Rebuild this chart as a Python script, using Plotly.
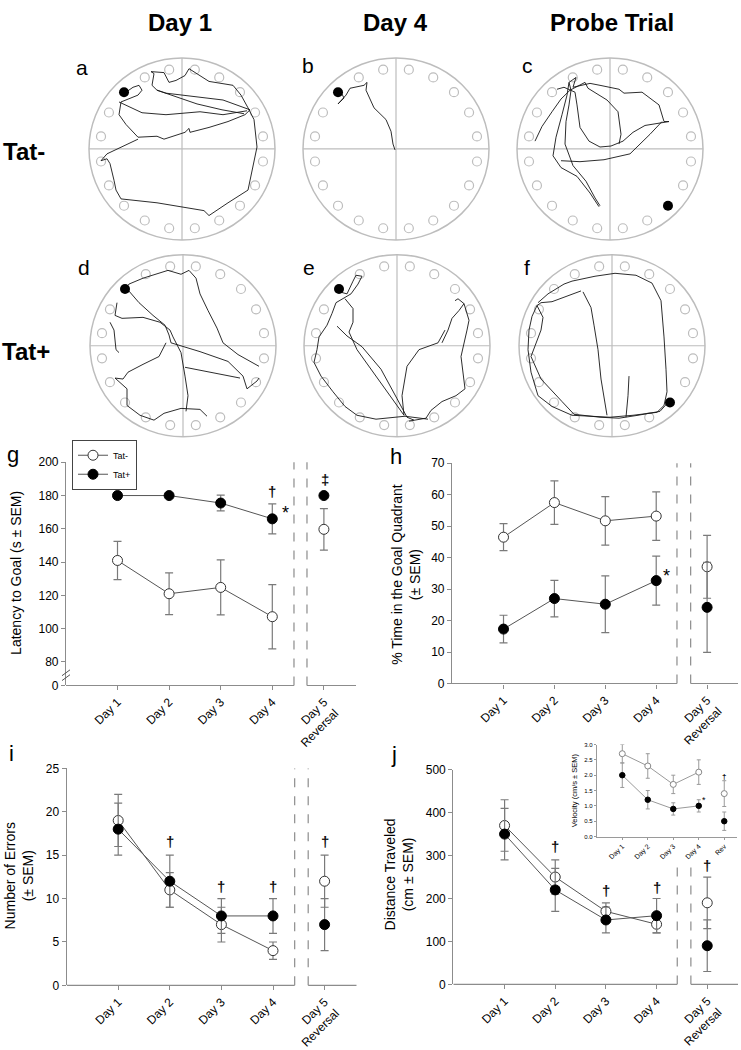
import math
import plotly.graph_objects as go

W, H = 741, 1050

# ---------------- data ----------------
DAY_TICKS = [1, 2, 3, 4, 5]
DAY_LABELS = ["Day 1", "Day 2", "Day 3", "Day 4", "Day 5<br>Reversal"]
INSET_LABELS = ["Day 1", "Day 2", "Day 3", "Day 4", "Rev"]
TRAIN_DAYS = [1, 2, 3, 4]
REV_DAY = [5]

# g: latency to goal (s)
LAT_NEG = [141, 121, 124.8, 107.2]
LAT_NEG_SEM = [11.5, 12.5, 16.5, 19.3]
LAT_NEG_REV = [159.7]
LAT_NEG_REV_SEM = [12.5]
LAT_POS = [180, 180, 175.5, 166]
LAT_POS_SEM = [0, 0, 4.7, 9]
LAT_POS_REV = [180]
LAT_POS_REV_SEM = [0]
LAT_TICKS = [80, 100, 120, 140, 160, 180, 200]

# h: % time in goal quadrant
TIME_NEG = [46.5, 57.5, 51.7, 53.2]
TIME_NEG_SEM = [4.3, 6.9, 7.7, 7.7]
TIME_NEG_REV = [37.1]
TIME_NEG_REV_SEM = [10]
TIME_POS = [17.3, 27.0, 25.2, 32.7]
TIME_POS_SEM = [4.4, 5.8, 9.0, 7.8]
TIME_POS_REV = [24.2]
TIME_POS_REV_SEM = [14.3]

# i: number of errors
ERR_NEG = [19, 11, 7, 4]
ERR_NEG_SEM = [3, 2, 2, 1]
ERR_NEG_REV = [12]
ERR_NEG_REV_SEM = [3]
ERR_POS = [18, 12, 8, 8]
ERR_POS_SEM = [3, 3, 2, 2]
ERR_POS_REV = [7]
ERR_POS_REV_SEM = [3]

# j: distance traveled (cm)
DIST_NEG = [370, 250, 170, 140]
DIST_NEG_SEM = [60, 40, 20, 20]
DIST_NEG_REV = [190]
DIST_NEG_REV_SEM = [60]
DIST_POS = [350, 220, 150, 160]
DIST_POS_SEM = [60, 50, 30, 40]
DIST_POS_REV = [90]
DIST_POS_REV_SEM = [60]

# j inset: velocity (cm/s)
VEL_NEG = [2.7, 2.3, 1.7, 2.1]
VEL_NEG_SEM = [0.3, 0.4, 0.3, 0.4]
VEL_NEG_REV = [1.4]
VEL_NEG_REV_SEM = [0.42]
VEL_POS = [2.0, 1.2, 0.9, 1.0]
VEL_POS_SEM = [0.4, 0.3, 0.2, 0.2]
VEL_POS_REV = [0.5]
VEL_POS_REV_SEM = [0.3]
VEL_TICKS = [0.0, 0.5, 1.0, 1.5, 2.0, 2.5, 3.0]

# Barnes maze tracks (arena radius = 93 units, y pointing down)
N_HOLES = 20
PATH_A = [
    [(-56, -58), (-49, -63), (-43, -65), (-40, -60), (-44, -55), (-61, -48), (-63, -35), (-56, -25),
     (-44, -12), (-25, -13), (-18, -10), (-9, -13), (3, -17), (7, -21), (8, -17), (27, -22), (46, -28),
     (63, -35), (68, -40), (41, -50), (18, -53), (-16, -57), (-25, -60), (-30, -65), (-28, -77), (-31, -79),
     (-18, -78), (-13, -68), (-6, -70), (3, -75), (7, -82), (27, -69), (51, -65), (59, -55), (66, -42),
     (72, -30), (75, -2), (70, 22), (66, 42), (46, 55), (27, 68), (22, 63), (-1, 59), (-25, 55), (-61, 51),
     (-66, 42), (-68, 32), (-72, 15), (-75, 10), (-81, 12), (-75, 5), (-59, -3), (-44, -10)],
    [(-63, -48), (-40, -37), (-16, -35), (18, -38), (41, -35), (65, -39)],
    [(-25, -60), (-10, -55), (15, -46), (40, -40), (62, -36)],
]
PATH_B = [
    [(-55, -58), (-52, -52), (-58, -46), (-50, -55), (-46, -62), (-32, -65), (-29, -68), (-30, -60),
     (-22, -42), (-10, -30), (-5, -18), (-3, -5), (-1, 1)],
]
PATH_C = [
    [(-10, 58), (-15, 50), (-24, 33), (-37, 17), (-45, -5), (-44, -28), (-41, -45), (-39, -60), (-41, -68),
     (-34, -73), (-37, -63), (-20, -67), (-10, -65), (9, -61), (14, -57), (32, -58), (49, -45), (54, -28),
     (59, -28), (47, -26), (35, -24), (23, -17), (13, -8), (1, -3), (-10, -2), (-21, -8), (-30, -22),
     (-33, -45), (-35, -58), (-46, -63), (-53, -61)],
    [(-75, -8), (-68, -23), (-58, -38), (-49, -51), (-40, -60), (-25, -68), (-22, -62), (-3, -50), (8, -38),
     (11, -15), (9, -5)],
    [(-11, 59), (-20, 45), (-33, 28), (-49, 19), (-57, 7), (-54, -12), (-48, -35), (-43, -55), (-41, -68)],
    [(-49, 12), (-30, 13), (-6, 11), (20, 5), (40, -15), (52, -28)],
]
PATH_D = [
    [(-61, -55), (-54, -63), (-40, -69), (-25, -74), (-15, -77), (-2, -73), (6, -77), (13, -69), (17, -53),
     (25, -36), (34, -18), (40, -3), (55, 9), (69, 17), (76, 21)],
    [(-55, -57), (-44, -44), (-30, -31), (-18, -21), (-14, -11), (-12, -3), (17, 6), (45, 16), (60, 31),
     (64, 44), (74, 36), (76, 33)],
    [(-66, -44), (-68, -31), (-61, -28), (-40, -29), (-23, -24), (-13, -16), (-10, -9), (-2, 7), (2, 31),
     (5, 51), (3, 67)],
    [(-17, -3), (-24, 11), (-40, 19), (-55, 27), (-60, 34), (-68, 33), (-56, 44), (-56, 61), (-43, 71),
     (-29, 76), (-19, 69), (-2, 64), (17, 65), (24, 72)],
    [(-73, -24), (-69, -16), (-67, 4), (-64, 7)],
    [(2, 22), (26, 27), (45, 31), (57, 33)],
]
PATH_E = [
    [(-61, -56), (-50, -53), (-44, -66), (-41, -72), (-35, -71), (-39, -63), (-46, -53), (-53, -49),
     (-61, -44), (-65, -33), (-70, -21), (-78, -9), (-80, 4), (-83, 17), (-76, 31), (-64, 47), (-52, 62),
     (-40, 71), (-21, 75), (8, 72), (31, 75)],
    [(-52, -48), (-44, -38), (-44, -24), (-48, -14), (-40, 4), (-26, 24), (-7, 51), (7, 71)],
    [(-60, -20), (-50, -10), (-35, 1), (-16, 24), (0, 54), (10, 73), (17, 76)],
    [(48, -16), (41, -3), (22, 4), (10, 21), (5, 51), (7, 71)],
    [(58, -46), (61, -48), (67, -43), (62, -36), (55, -28), (51, -16), (45, -3)],
    [(67, -43), (72, -26), (70, -16), (64, 11), (68, 44), (59, 51), (45, 57), (34, 66), (29, 74), (12, 77)],
]
PATH_F = [
    [(-74, -44), (-64, -53), (-48, -63), (-40, -66), (-17, -71), (3, -74), (24, -72), (40, -64), (49, -46),
     (51, -26), (52, -9), (54, 24), (55, 47), (52, 61), (45, 68), (21, 71), (-2, 73), (-40, 71), (-60, 62),
     (-74, 51), (-81, 27), (-84, 4), (-83, -16), (-80, -30), (-75, -41)],
    [(-31, -56), (-45, -51), (-60, -45), (-71, -44), (-75, -41), (-69, -29), (-71, -16), (-81, 11),
     (-71, 34), (-50, 57), (-38, 70), (-12, 73), (7, 74), (26, 71), (48, 67), (55, 59)],
    [(-29, -55), (-21, -39), (-18, -21), (-14, 4), (-11, 34), (-7, 61), (-5, 71)],
    [(17, 31), (16, 51), (14, 73)],
]

# ---------------- helpers ----------------
FONT = "Liberation Sans, Arial, sans-serif"
AX = "#8c8c8c"
ERRC = "#7a7a7a"
MAZE_GRAY = "#bdbdbd"


def px_x(p):
    return p / W


def px_y(p):
    return 1 - p / H


fig = go.Figure()
layout = {}
shapes = []
annots = []


def ann(text, x, y, size=12, bold=False, xref="paper", yref="paper", angle=0,
        xanchor="center", yanchor="middle", color="black"):
    if bold:
        text = "<b>" + text + "</b>"
    annots.append(dict(text=text, x=x, y=y, xref=xref, yref=yref, showarrow=False,
                       textangle=angle, xanchor=xanchor, yanchor=yanchor,
                       font=dict(family=FONT, size=size, color=color)))


def axnames(k):
    return ("x" if k == 1 else f"x{k}", "y" if k == 1 else f"y{k}",
            "xaxis" if k == 1 else f"xaxis{k}", "yaxis" if k == 1 else f"yaxis{k}")


# ---------------- mazes ----------------
maze_specs = [
    (PATH_A, 182, 145, 315, "a", 82, 62),
    (PATH_B, 396, 145, 315, "b", 308, 60),
    (PATH_C, 610, 145, 135, "c", 527, 60),
    (PATH_D, 183, 346, 315, "d", 84, 266),
    (PATH_E, 397, 346, 315, "e", 309, 266),
    (PATH_F, 612, 346, 135, "f", 527, 266),
]
RING = 82
ARENA = 93
for k, (paths, cx, cy, goal, lab, lx, ly) in enumerate(maze_specs, start=1):
    xa, ya, xk, yk = axnames(k)
    layout[xk] = dict(domain=[px_x(cx - 100), px_x(cx + 100)], range=[-100, 100], visible=False,
                      fixedrange=True, anchor=ya)
    layout[yk] = dict(domain=[px_y(cy + 100), px_y(cy - 100)], range=[100, -100], visible=False,
                      fixedrange=True, anchor=xa)
    shapes.append(dict(type="circle", xref=xa, yref=ya, x0=-ARENA, x1=ARENA, y0=-ARENA, y1=ARENA,
                       line=dict(color=MAZE_GRAY, width=1.5), layer="below"))
    shapes.append(dict(type="line", xref=xa, yref=ya, x0=0, x1=0, y0=-ARENA, y1=ARENA,
                       line=dict(color=MAZE_GRAY, width=1.2), layer="below"))
    shapes.append(dict(type="line", xref=xa, yref=ya, x0=-ARENA, x1=ARENA, y0=0, y1=0,
                       line=dict(color=MAZE_GRAY, width=1.2), layer="below"))
    angles = [9 + 18 * i for i in range(N_HOLES)]
    hx = [RING * math.sin(math.radians(a)) for a in angles if a != goal]
    hy = [-RING * math.cos(math.radians(a)) for a in angles if a != goal]
    fig.add_trace(go.Scatter(x=hx, y=hy, xaxis=xa, yaxis=ya, mode="markers",
                             marker=dict(symbol="circle-open", size=9, color=MAZE_GRAY,
                                         line=dict(width=1.2)),
                             showlegend=False, hoverinfo="skip"))
    px_, py_ = [], []
    for seg in paths:
        px_ += [p[0] for p in seg] + [None]
        py_ += [p[1] for p in seg] + [None]
    fig.add_trace(go.Scatter(x=px_, y=py_, xaxis=xa, yaxis=ya, mode="lines",
                             line=dict(color="#151515", width=0.9), showlegend=False,
                             hoverinfo="skip"))
    fig.add_trace(go.Scatter(x=[RING * math.sin(math.radians(goal))],
                             y=[-RING * math.cos(math.radians(goal))], xaxis=xa, yaxis=ya,
                             mode="markers", marker=dict(size=10, color="black"),
                             showlegend=False, hoverinfo="skip"))
    ann(lab, px_x(lx), px_y(ly), size=21)

ann("Day 1", px_x(180), px_y(16), size=24, bold=True)
ann("Day 4", px_x(395), px_y(16), size=24, bold=True)
ann("Probe Trial", px_x(612), px_y(16), size=24, bold=True)
ann("Tat-", px_x(24), px_y(148), size=24, bold=True)
ann("Tat+", px_x(26), px_y(352), size=24, bold=True)


# ---------------- line charts ----------------
def series(xa, ya, x, y, sem, filled, size=10, lines=True, name=None, legend=False,
           lc="#555555", ecolor=ERRC, ew=4, eth=1.2, lw=1.0, mlc="#333333"):
    fig.add_trace(go.Scatter(
        x=x, y=y, xaxis=xa, yaxis=ya, mode="lines+markers" if lines else "markers",
        line=dict(color=lc, width=lw),
        marker=dict(symbol="circle", size=size, color="black" if filled else "white",
                    line=dict(color="black" if filled else mlc, width=1)),
        error_y=dict(type="data", array=sem, visible=True, color=ecolor, thickness=eth, width=ew),
        name=name, showlegend=legend, hoverinfo="skip", cliponaxis=False))


def chart_axes(k, xl, xr, yb, yt, xrng, yrng, ytickvals, yticktext, xtickvals, xticktext,
               tfs=12, xtfs=12, ticklen=4, lw=1.2, color=AX, showxline=False):
    xa, ya, xk, yk = axnames(k)
    layout[xk] = dict(domain=[px_x(xl), px_x(xr)], range=xrng, anchor=ya, showgrid=False,
                      zeroline=False, showline=showxline, linecolor=color, linewidth=lw,
                      ticks="outside", ticklen=ticklen, tickcolor=color, tickwidth=1,
                      tickvals=xtickvals, ticktext=xticktext, tickangle=-45,
                      tickfont=dict(family=FONT, size=xtfs, color="black"), fixedrange=True)
    layout[yk] = dict(domain=[px_y(yb), px_y(yt)], range=yrng, anchor=xa, showgrid=False,
                      zeroline=False, showline=True, linecolor=color, linewidth=lw,
                      ticks="outside", ticklen=ticklen, tickcolor=color, tickwidth=1,
                      tickvals=ytickvals, ticktext=yticktext,
                      tickfont=dict(family=FONT, size=tfs, color="black"), fixedrange=True)
    return xa, ya


def baseline_and_dash(xa, ya, xrng, d1, d2, dash_top=None):
    line = dict(color=AX, width=1.2)
    shapes.append(dict(type="line", xref=xa, yref=ya + " domain", x0=xrng[0], x1=d1, y0=0, y1=0,
                       line=line))
    shapes.append(dict(type="line", xref=xa, yref=ya + " domain", x0=d2, x1=xrng[1], y0=0, y1=0,
                       line=line))
    for d in (d1, d2):
        if dash_top is None:
            shapes.append(dict(type="line", xref=xa, yref=ya + " domain", x0=d, x1=d, y0=0, y1=1,
                               line=dict(color=AX, width=1.2, dash="dash")))
        else:
            shapes.append(dict(type="line", xref=xa, yref=ya, x0=d, x1=d, y0=0, y1=dash_top,
                               line=dict(color=AX, width=1.2, dash="dash")))


def dagger(text, x, y, xa, ya, size=15):
    ann("<b>" + text + "</b>", x, y, size=size, xref=xa, yref=ya, color="#111")


XR_LEFT = [0.002, 5.622]
XR_RIGHT = [-0.012, 5.607]

# g
g_zero = 65.88
xa, ya = chart_axes(7, 66, 356, 693, 465, XR_LEFT, [g_zero, 200],
                    [g_zero] + LAT_TICKS, ["0"] + [str(v) for v in LAT_TICKS],
                    DAY_TICKS, DAY_LABELS)
baseline_and_dash(xa, ya, XR_LEFT, 4.42, 4.672)
series(xa, ya, TRAIN_DAYS, LAT_NEG, LAT_NEG_SEM, False, name="Tat-", legend=True)
series(xa, ya, TRAIN_DAYS, LAT_POS, LAT_POS_SEM, True, name="Tat+", legend=True)
series(xa, ya, REV_DAY, LAT_NEG_REV, LAT_NEG_REV_SEM, False, lines=False)
series(xa, ya, REV_DAY, LAT_POS_REV, LAT_POS_REV_SEM, True, lines=False)
dagger("†", 4.0, 182.5, xa, ya)
ann("*", 4.25, 169.5, size=18, xref=xa, yref=ya)
dagger("‡", 5.03, 189.5, xa, ya)
# axis break marks
for off in (0, 5):
    shapes.append(dict(type="line", xref="paper", yref="paper", x0=px_x(62), x1=px_x(70),
                       y0=px_y(683 + off), y1=px_y(677 + off), line=dict(color="#555", width=1)))
ann("Latency to Goal (s ± SEM)", px_x(16), px_y(578), size=14, angle=-90)
ann("g", px_x(13), px_y(457), size=22)

# h
xa, ya = chart_axes(8, 452, 738, 691, 466, XR_RIGHT, [0, 70],
                    [0, 10, 20, 30, 40, 50, 60, 70], None, DAY_TICKS, DAY_LABELS)
baseline_and_dash(xa, ya, XR_RIGHT, 4.408, 4.677)
series(xa, ya, TRAIN_DAYS, TIME_NEG, TIME_NEG_SEM, False)
series(xa, ya, TRAIN_DAYS, TIME_POS, TIME_POS_SEM, True)
series(xa, ya, REV_DAY, TIME_NEG_REV, TIME_NEG_REV_SEM, False, lines=False)
series(xa, ya, REV_DAY, TIME_POS_REV, TIME_POS_REV_SEM, True, lines=False)
ann("*", 4.2, 34.2, size=18, xref=xa, yref=ya)
ann("% Time in the Goal Quadrant<br>(± SEM)", px_x(406), px_y(579), size=14, angle=-90)
ann("h", px_x(396), px_y(459), size=22)

# i
xa, ya = chart_axes(9, 66.7, 356.7, 999.3, 777.7, XR_LEFT, [0, 25],
                    [0, 5, 10, 15, 20, 25], None, DAY_TICKS, DAY_LABELS)
baseline_and_dash(xa, ya, XR_LEFT, 4.42, 4.682)
series(xa, ya, TRAIN_DAYS, ERR_NEG, ERR_NEG_SEM, False)
series(xa, ya, TRAIN_DAYS, ERR_POS, ERR_POS_SEM, True)
series(xa, ya, REV_DAY, ERR_NEG_REV, ERR_NEG_REV_SEM, False, lines=False)
series(xa, ya, REV_DAY, ERR_POS_REV, ERR_POS_REV_SEM, True, lines=False)
for dx_, dy_ in [(2, 16.6), (3, 11.4), (4, 11.4), (5, 16.6)]:
    dagger("†", dx_, dy_, xa, ya)
ann("Number of Errors<br>(± SEM)", px_x(19), px_y(888), size=14, angle=-90)
ann("i", px_x(11), px_y(762), size=22)

# j
xa, ya = chart_axes(10, 453.3, 738, 998.3, 779, XR_RIGHT, [0, 500],
                    [0, 100, 200, 300, 400, 500], None, DAY_TICKS, DAY_LABELS)
baseline_and_dash(xa, ya, XR_RIGHT, 4.408, 4.677, dash_top=286)
series(xa, ya, TRAIN_DAYS, DIST_NEG, DIST_NEG_SEM, False)
series(xa, ya, TRAIN_DAYS, DIST_POS, DIST_POS_SEM, True)
series(xa, ya, REV_DAY, DIST_NEG_REV, DIST_NEG_REV_SEM, False, lines=False)
series(xa, ya, REV_DAY, DIST_POS_REV, DIST_POS_REV_SEM, True, lines=False)
for dx_, dy_ in [(2, 322), (3, 219), (4, 226), (5, 276)]:
    dagger("†", dx_, dy_, xa, ya)
ann("Distance Traveled<br>(cm ± SEM)", px_x(399), px_y(886), size=14, angle=-90)
ann("j", px_x(394), px_y(763), size=22)

# inset (velocity)
xa, ya = chart_axes(11, 596.7, 737, 847.3, 753.3, [-0.004, 5.5], [0, 3.0],
                    VEL_TICKS, [f"{v:.1f}" for v in VEL_TICKS], DAY_TICKS, INSET_LABELS,
                    tfs=6, xtfs=7, ticklen=2, lw=1, color="#9a9a9a", showxline=True)
IN_G = "#9a9a9a"
series(xa, ya, TRAIN_DAYS, VEL_NEG, VEL_NEG_SEM, False, size=6, lc=IN_G, ecolor=IN_G, ew=2,
       eth=1, mlc="#888888")
series(xa, ya, TRAIN_DAYS, VEL_POS, VEL_POS_SEM, True, size=5.5, lc=IN_G, ecolor=IN_G, ew=2, eth=1)
series(xa, ya, REV_DAY, VEL_NEG_REV, VEL_NEG_REV_SEM, False, size=6, lines=False, ecolor=IN_G,
       ew=2, eth=1, mlc="#888888")
series(xa, ya, REV_DAY, VEL_POS_REV, VEL_POS_REV_SEM, True, size=5.5, lines=False, ecolor=IN_G,
       ew=2, eth=1)
ann("*", 4.2, 1.2, size=9, xref=xa, yref=ya)
dagger("†", 5.0, 1.97, xa, ya, size=8)
ann("Velocity (cm/s ± SEM)", px_x(574), px_y(800), size=7.5, angle=-90)

layout.update(
    width=W, height=H, margin=dict(l=0, r=0, t=0, b=0, pad=0),
    paper_bgcolor="white", plot_bgcolor="white", hovermode=False,
    font=dict(family=FONT, color="black"),
    shapes=shapes, annotations=annots,
    showlegend=True,
    legend=dict(x=px_x(72), y=px_y(442), xanchor="left", yanchor="top", bordercolor="#444",
                borderwidth=1, bgcolor="white", font=dict(family=FONT, size=9),
                itemwidth=30, tracegroupgap=0),
)
fig.update_layout(**layout)
fig.write_html("out.html", include_plotlyjs=True, full_html=True,
               config={"displayModeBar": False},
               post_script="document.body.style.margin='0';")
